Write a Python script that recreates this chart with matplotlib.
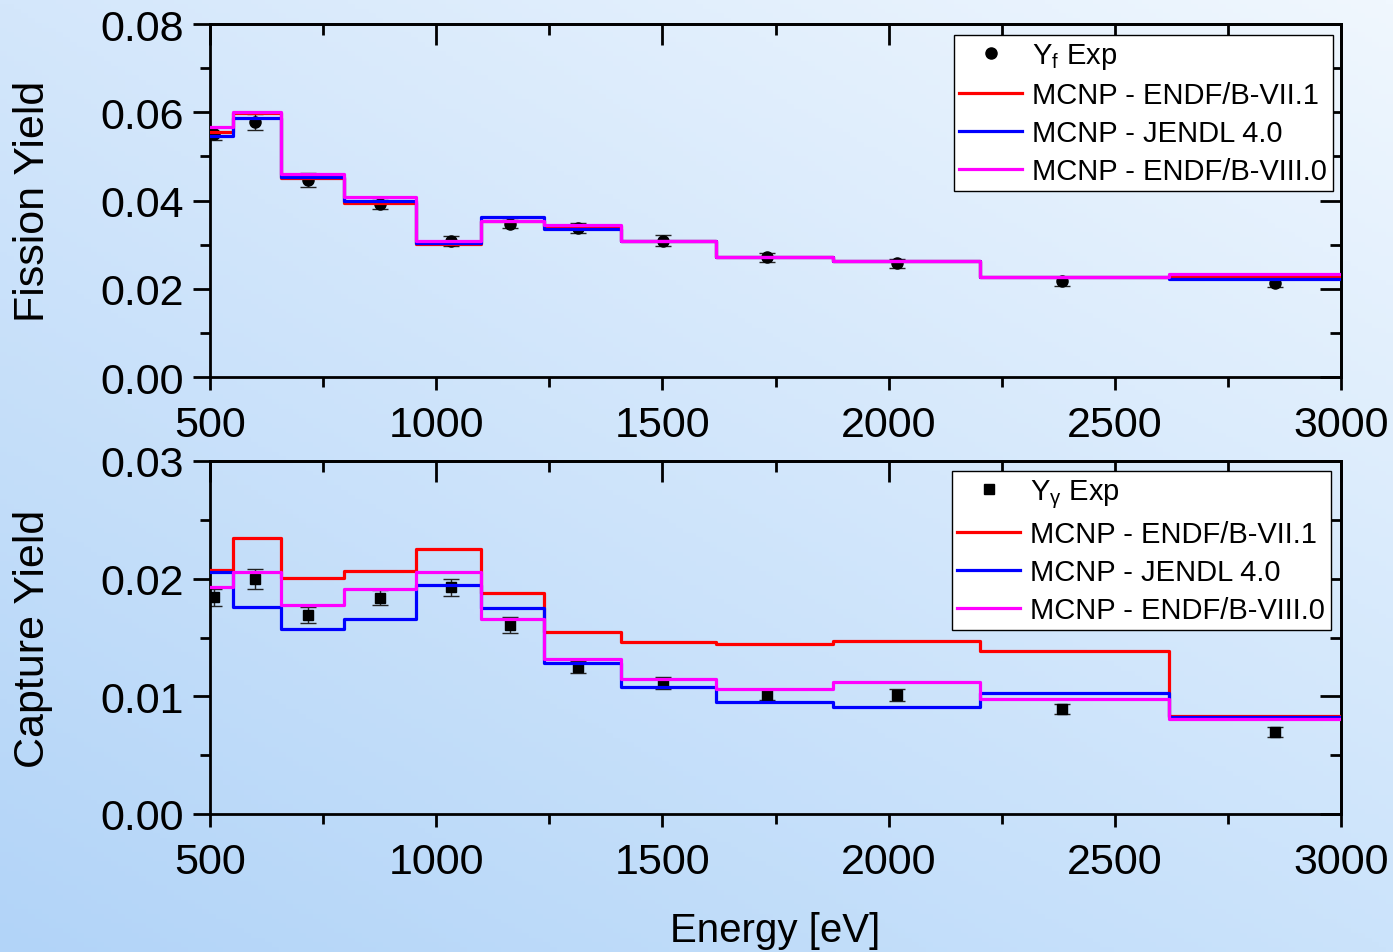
"""Fission and capture yields vs. neutron energy: measurement against MCNP libraries."""

import matplotlib.pyplot as plt
import numpy as np
from matplotlib.ticker import MultipleLocator, FormatStrFormatter

plt.rcParams["font.family"] = ["Liberation Sans", "DejaVu Sans"]
plt.rcParams["mathtext.fontset"] = "custom"
plt.rcParams["mathtext.rm"] = "Liberation Sans"
plt.rcParams["mathtext.it"] = "Liberation Sans"

# Energy group boundaries [eV]
edges = [500, 550, 657, 797, 955, 1099, 1239, 1409, 1618, 1876, 2201, 2620, 3000]

# Experimental points
exp_energy = [508, 600, 717, 876, 1033, 1163, 1313, 1501, 1731, 2019, 2383, 2855]
yf_exp = [0.0551, 0.0578, 0.0447, 0.0391, 0.0309, 0.0347, 0.0338, 0.0309,
          0.0271, 0.0258, 0.0217, 0.0213]
yf_err = [0.0015, 0.0019, 0.0016, 0.0011, 0.0011, 0.0009, 0.0012, 0.0012,
          0.0011, 0.0010, 0.0010, 0.0008]
yg_exp = [0.01841, 0.01997, 0.01691, 0.01838, 0.01927, 0.01606, 0.01252,
          0.01111, 0.01014, 0.01014, 0.00892, 0.00694]
yg_err = [0.00074, 0.00082, 0.00068, 0.00066, 0.00074, 0.00070, 0.00050,
          0.00050, 0.00045, 0.00050, 0.00045, 0.00042]

# MCNP group-wise fission yield
yf_endf71 = [0.0555, 0.0598, 0.0450, 0.0395, 0.0301, 0.0353, 0.0343, 0.0309,
             0.0273, 0.0264, 0.0226, 0.0227]
yf_jendl4 = [0.0547, 0.0588, 0.0453, 0.0398, 0.0304, 0.0362, 0.0335, 0.0309,
             0.0273, 0.0264, 0.0227, 0.0221]
yf_endf80 = [0.0567, 0.0600, 0.0459, 0.0407, 0.0309, 0.0354, 0.0344, 0.0309,
             0.0273, 0.0264, 0.0227, 0.0233]

# MCNP group-wise capture yield
yg_endf71 = [0.02076, 0.02343, 0.02003, 0.02068, 0.02252, 0.01875, 0.01544,
             0.01464, 0.01442, 0.01473, 0.01382, 0.00835]
yg_jendl4 = [0.02059, 0.01756, 0.01572, 0.01657, 0.01943, 0.01753, 0.01286,
             0.01077, 0.00949, 0.00907, 0.01028, 0.00822]
yg_endf80 = [0.01932, 0.02057, 0.01776, 0.01915, 0.02057, 0.01657, 0.01317,
             0.01145, 0.01062, 0.01119, 0.00977, 0.00807]

libraries = ["MCNP - ENDF/B-VII.1", "MCNP - JENDL 4.0", "MCNP - ENDF/B-VIII.0"]
colors = ["#ff0000", "#0000ff", "#ff00ff"]

W, H = 1393, 953
fig = plt.figure(figsize=(W / 100, H / 100), dpi=100)

# Light blue diagonal background
bg = fig.add_axes([0, 0, 1, 1], zorder=-10)
tl, tr = np.array([212, 231, 251]), np.array([240, 247, 254])
bl, br = np.array([178, 212, 248]), np.array([203, 227, 251])
u = np.linspace(0, 1, 200)[None, :, None]
v = np.linspace(0, 1, 200)[:, None, None]
grad = (tl * (1 - u) * (1 - v) + tr * u * (1 - v) + bl * (1 - u) * v + br * u * v) / 255
bg.imshow(grad, aspect="auto", extent=[0, 1, 0, 1])
bg.axis("off")


def px_rect(left, top, right, bottom):
    return [left / W, 1 - bottom / H, (right - left) / W, (bottom - top) / H]


ax1 = fig.add_axes(px_rect(210, 25, 1341, 378))
ax2 = fig.add_axes(px_rect(210, 462, 1341, 815))


def draw_panel(ax, y_exp, y_err, marker, exp_label, models, ymax, minor_step):
    ax.set_facecolor("none")
    ax.errorbar(exp_energy, y_exp, yerr=y_err, fmt="none", ecolor="#222222",
                elinewidth=1.0, capsize=5.5, capthick=1.0, zorder=2)
    ax.plot(exp_energy, y_exp, marker, color="black", ms=8 if marker == "o" else 7,
            ls="none", label=exp_label, zorder=2)
    for vals, c, lab in zip(models, colors, libraries):
        ax.plot(edges, np.append(vals, vals[-1]), drawstyle="steps-post",
                color=c, lw=2.3, label=lab, zorder=3)

    ax.set_xlim(500, 3000)
    ax.set_ylim(0, ymax)
    ax.xaxis.set_major_locator(MultipleLocator(500))
    ax.xaxis.set_minor_locator(MultipleLocator(250))
    ax.yaxis.set_major_locator(MultipleLocator(2 * minor_step))
    ax.yaxis.set_minor_locator(MultipleLocator(minor_step))
    ax.yaxis.set_major_formatter(FormatStrFormatter("%.2f"))

    for s in ax.spines.values():
        s.set_linewidth(2.0)
    ax.tick_params(axis="both", which="both", direction="out", top=False,
                   right=False, width=2.0, labelsize=31)
    ax.tick_params(axis="y", which="major", length=12, pad=7)
    ax.tick_params(axis="y", which="minor", length=7)
    ax.tick_params(axis="x", which="major", length=9, pad=11)
    ax.tick_params(axis="x", which="minor", length=7)

    # mirrored inward ticks on top and right
    top = ax.secondary_xaxis("top")
    top.xaxis.set_major_locator(MultipleLocator(500))
    top.xaxis.set_minor_locator(MultipleLocator(250))
    top.tick_params(which="both", direction="in", labeltop=False, width=2.0)
    top.tick_params(which="major", length=15)
    top.tick_params(which="minor", length=8)
    top.spines["top"].set_linewidth(2.0)
    right = ax.secondary_yaxis("right")
    right.yaxis.set_major_locator(MultipleLocator(2 * minor_step))
    right.yaxis.set_minor_locator(MultipleLocator(minor_step))
    right.tick_params(which="both", direction="in", labelright=False, width=2.0)
    right.tick_params(which="major", length=15)
    right.tick_params(which="minor", length=8)
    right.spines["right"].set_linewidth(2.0)


draw_panel(ax1, yf_exp, yf_err, "o", r"Y$_\mathregular{f}$ Exp",
           [yf_endf71, yf_jendl4, yf_endf80], 0.08, 0.01)
draw_panel(ax2, yg_exp, yg_err, "s", r"Y$_\mathregular{\gamma}$ Exp",
           [yg_endf71, yg_jendl4, yg_endf80], 0.03, 0.005)

ax1.set_ylabel("Fission Yield", fontsize=31)
ax2.set_ylabel("Capture Yield", fontsize=31)
for ax in (ax1, ax2):
    ax.yaxis.label.set_verticalalignment("center")
    ax.yaxis.set_label_coords(-0.1565, 0.5)

fig.text(775.5 / W, 1 - 931 / H, "Energy [eV]", fontsize=29,
         ha="center", va="center")

# Legends pinned to the upper right corner of each panel
for ax, right_px, top_px in ((ax1, 1333, 36), (ax2, 1331, 472)):
    leg = ax.legend(loc="upper right", bbox_to_anchor=(right_px / W, 1 - top_px / H),
                    bbox_transform=fig.transFigure, borderaxespad=0, fontsize=21,
                    frameon=True, fancybox=False, framealpha=1, edgecolor="black",
                    handlelength=2.15, handletextpad=0.35, labelspacing=0.35,
                    borderpad=0.2, numpoints=1)
    leg.get_frame().set_linewidth(1.0)

fig.savefig("out.png", dpi=100)
